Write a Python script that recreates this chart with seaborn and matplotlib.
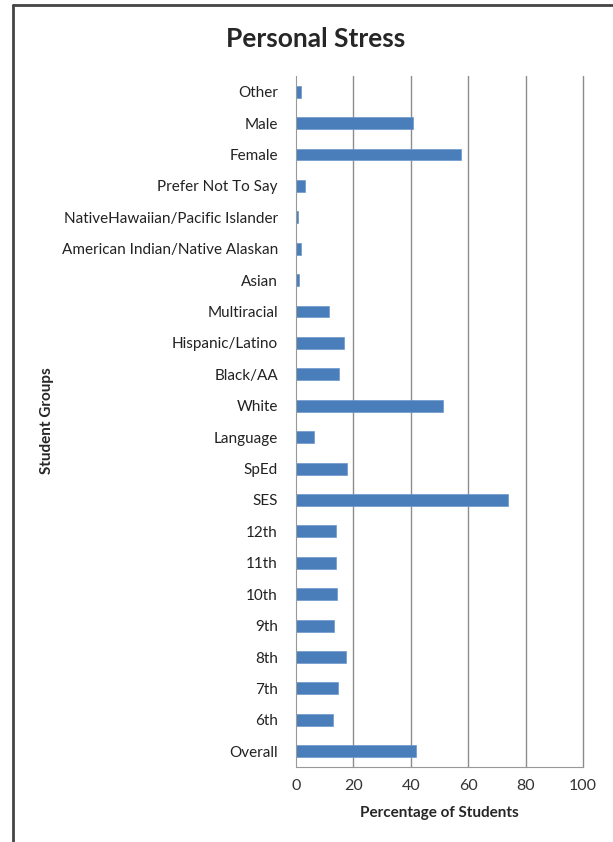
import numpy as np
import pandas as pd
import matplotlib
matplotlib.use("Agg")
import matplotlib.pyplot as plt
import seaborn as sns
from matplotlib.lines import Line2D

# groupes de haut en bas, comme sur le graphique
groupes = ["Other", "Male", "Female", "Prefer Not To Say",
           "NativeHawaiian/Pacific Islander", "American Indian/Native Alaskan",
           "Asian", "Multiracial", "Hispanic/Latino", "Black/AA", "White",
           "Language", "SpEd", "SES", "12th", "11th", "10th", "9th", "8th",
           "7th", "6th", "Overall"]
pourcentages = [1.6, 40.8, 57.6, 3.0, 0.6, 1.6, 0.9, 11.5, 16.8, 15.1, 51.3,
                6.2, 17.8, 73.9, 13.9, 13.9, 14.3, 13.2, 17.4, 14.6, 12.9, 41.8]
graduations_x = [0, 20, 40, 60, 80, 100]

df = pd.DataFrame({"groupe": groupes, "pct": pourcentages})

sns.set_style("white")
plt.rcParams["font.family"] = ["Lato", "DejaVu Sans"]

fig = plt.figure(figsize=(6.13, 8.42), dpi=100)
ax = fig.add_axes([0.4829, 0.0891, 0.4682, 0.8207])

sns.barplot(data=df, x="pct", y="groupe", order=groupes, color="#4a7ebb",
            width=0.38, saturation=1, edgecolor="#6a96cc", linewidth=0.5, ax=ax)

ax.set_xlim(0, 100)
ax.set_ylim(len(groupes) - 0.5, -0.5)
ax.set_xticks(graduations_x)
ax.set_xticklabels([str(v) for v in graduations_x], fontsize=11.5, color="#333333")
ax.tick_params(axis="y", length=0, labelsize=11, labelcolor="#222222", pad=13)
ax.tick_params(axis="x", length=5, width=0.8, color="#999999", direction="out", pad=4)

# petites marques entre les catégories (style Excel)
ax.set_yticks(np.arange(-0.5, len(groupes), 1), minor=True)
ax.tick_params(axis="y", which="minor", length=5, width=0.8, color="#999999")

for x in graduations_x[1:]:
    ax.axvline(x, color="#8c8c8c", linewidth=1.0, zorder=0, clip_on=False)

for side in ["top", "right"]:
    ax.spines[side].set_visible(False)
for side in ["left", "bottom"]:
    ax.spines[side].set_color("#999999")
    ax.spines[side].set_linewidth(0.8)

ax.set_xlabel("Percentage of Students", fontsize=11, fontweight="bold", labelpad=9)
ax.set_ylabel("")
fig.text(0.077, 0.50, "Student Groups", rotation=90, fontsize=11,
         fontweight="bold", ha="center", va="center")
fig.text(0.515, 0.954, "Personal Stress", fontsize=19, fontweight="bold",
         ha="center", va="center")

# cadre autour du graphique
fig.add_artist(Line2D([13 / 613, 13 / 613], [0, 1 - 5 / 842], transform=fig.transFigure,
                      color="#444444", linewidth=2))
fig.add_artist(Line2D([13 / 613, 1], [1 - 5 / 842, 1 - 5 / 842], transform=fig.transFigure,
                      color="#444444", linewidth=2))

fig.savefig("out.png", dpi=100)
